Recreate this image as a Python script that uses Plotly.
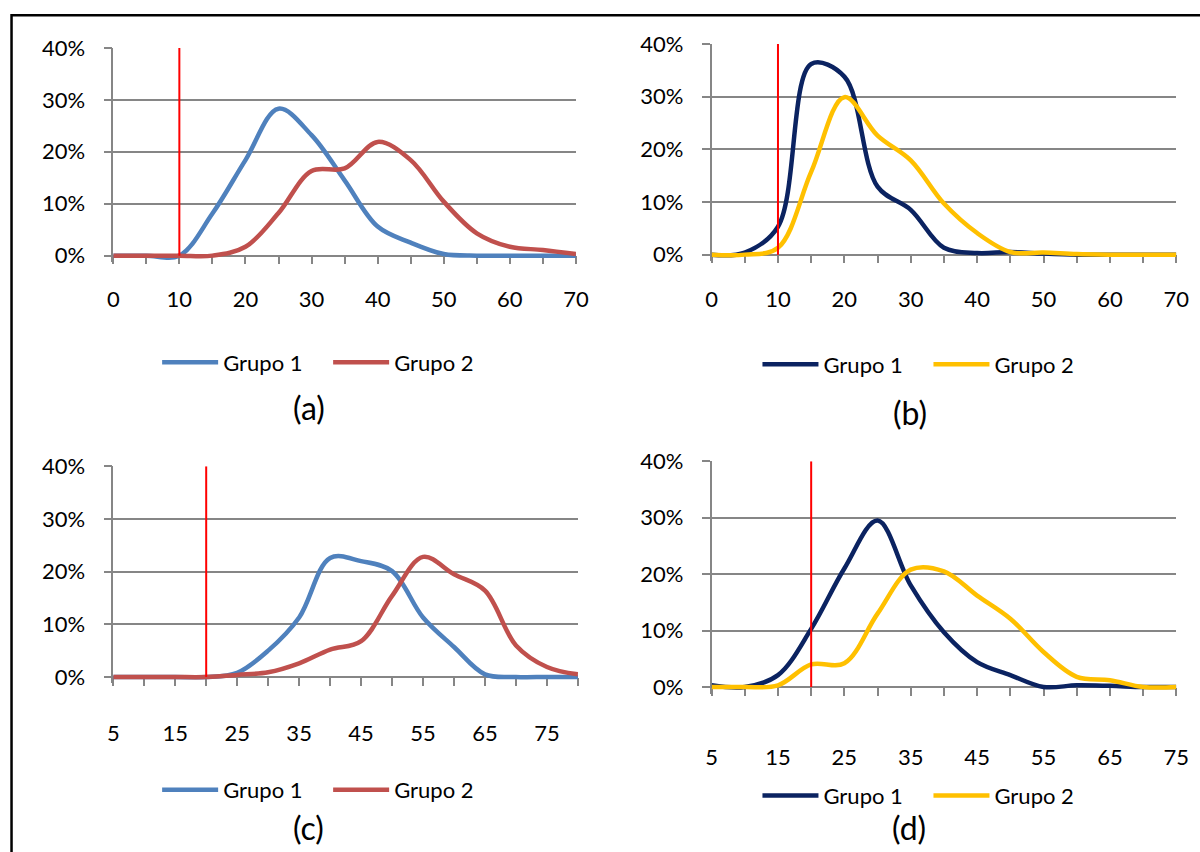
import plotly.graph_objects as go

W, H = 1200, 852
# measured mapping between figure pixels and the photographed picture
SX, BX = 0.9869, 3.45
SY, BY = 0.978, 14.0

# ---------------- data ----------------
x_a = [0, 5, 10, 15, 20, 25, 30, 35, 40, 45, 50, 55, 60, 65, 70]
a_grupo1 = [0, 0, 0, 0.081, 0.184, 0.283, 0.232, 0.145, 0.056, 0.025, 0.003, 0, 0, 0, 0]
a_grupo2 = [0, 0, 0, 0, 0.017, 0.082, 0.163, 0.168, 0.219, 0.184, 0.104, 0.043, 0.017, 0.011, 0.003]

x_b = [0, 5, 10, 15, 20, 25, 30, 35, 40, 45, 50, 55, 60, 65, 70]
b_grupo1 = [0, 0.004, 0.053, 0.362, 0.338, 0.129, 0.085, 0.013, 0.003, 0.005, 0.002, 0, 0, 0, 0]
b_grupo2 = [0, 0, 0.013, 0.157, 0.299, 0.226, 0.179, 0.097, 0.041, 0.005, 0.004, 0.001, 0, 0, 0]

x_c = [5, 10, 15, 20, 25, 30, 35, 40, 45, 50, 55, 60, 65, 70, 75, 80]
c_grupo1 = [0, 0, 0, 0, 0.008, 0.05, 0.113, 0.226, 0.22, 0.201, 0.113, 0.057, 0.005, 0, 0, 0]
c_grupo2 = [0, 0, 0, 0, 0.004, 0.009, 0.026, 0.052, 0.068, 0.154, 0.228, 0.195, 0.164, 0.06, 0.019, 0.005]

x_d = [5, 10, 15, 20, 25, 30, 35, 40, 45, 50, 55, 60, 65, 70, 75]
d_grupo1 = [0.003, 0, 0.021, 0.103, 0.21, 0.295, 0.18, 0.097, 0.044, 0.021, 0, 0.003, 0.002, 0, 0]
d_grupo2 = [0, 0, 0.003, 0.04, 0.042, 0.13, 0.208, 0.205, 0.162, 0.121, 0.062, 0.018, 0.012, 0, 0]

thresholds = [10, 10, 20, 20]
panel_labels = ["(a)", "(b)", "(c)", "(d)"]
series_names = ["Grupo 1", "Grupo 2"]

# ---------------- style ----------------
FONT = "Lato"
GRAY = "#868686"
BLUE, RED = "#4F81BD", "#C0504D"
NAVY, GOLD = "#0B2361", "#FFC000"
YMIN = -0.012


def fx(s):
    return (s - BX) / SX


def fy(s):
    return (s - BY) / SY


def px_x(s):
    return fx(s) / W


def py_paper(s):
    return 1 - fy(s) / H


# picture-pixel layout of each panel
panels = [
    dict(x=x_a, s=[a_grupo1, a_grupo2], c=[BLUE, RED], px=(111, 575), py=(48, 256), xlab_off=16,
         leg=(155, 363), lab=(307, 408)),
    dict(x=x_b, s=[b_grupo1, b_grupo2], c=[NAVY, GOLD], px=(711, 1177), py=(44, 255), xlab_off=17,
         leg=(757, 365), lab=(910, 413)),
    dict(x=x_c, s=[c_grupo1, c_grupo2], c=[BLUE, RED], px=(111, 577), py=(467, 678), xlab_off=29,
         leg=(155, 791), lab=(307, 829)),
    dict(x=x_d, s=[d_grupo1, d_grupo2], c=[NAVY, GOLD], px=(711, 1177), py=(462, 688), xlab_off=43,
         leg=(757, 797), lab=(909, 829)),
]

fig = go.Figure()
layout_axes = {}
annotations = []
for i, p in enumerate(panels):
    n = i + 1
    xa = "x" if n == 1 else f"x{n}"
    ya = "y" if n == 1 else f"y{n}"
    legname = "legend" if n == 1 else f"legend{n}"
    y40, y0 = fy(p["py"][0]), fy(p["py"][1])
    ppu = (y0 - y40) / 0.4
    ybot = y0 + (0 - YMIN) * ppu
    x0p, x1p = p["px"]
    for k in range(2):
        fig.add_trace(go.Scatter(
            x=p["x"], y=p["s"][k], name=series_names[k], mode="lines",
            line=dict(color=p["c"][k], width=4.5, shape="spline", smoothing=1),
            xaxis=xa, yaxis=ya, legend=legname, showlegend=True,
        ))
    thr = thresholds[i]
    fig.add_trace(go.Scatter(
        x=[thr, thr], y=[0, 0.4], mode="lines", line=dict(color="#FF0000", width=2),
        xaxis=xa, yaxis=ya, showlegend=False, hoverinfo="skip",
    ))
    xs = p["x"]
    ticktext = [str(v) if j % 2 == 0 else "" for j, v in enumerate(xs)]
    layout_axes[("xaxis" if n == 1 else f"xaxis{n}")] = dict(
        domain=[px_x(x0p), px_x(x1p)], range=[xs[0], xs[-1]],
        anchor="free", position=1 - y0 / H,
        tickmode="array", tickvals=xs, ticktext=ticktext,
        ticks="outside", ticklen=8, tickwidth=1.5, tickcolor=GRAY,
        showline=True, linecolor=GRAY, linewidth=1.5, showgrid=False, zeroline=False,
        tickfont=dict(family=FONT, size=22, color="black"), ticklabelstandoff=p["xlab_off"],
        layer="below traces",
    )
    layout_axes[("yaxis" if n == 1 else f"yaxis{n}")] = dict(
        domain=[1 - ybot / H, 1 - y40 / H], range=[YMIN, 0.4],
        anchor=xa, tickmode="array", tickvals=[0, 0.1, 0.2, 0.3, 0.4],
        ticktext=["0%", "10%", "20%", "30%", "40%"],
        ticks="outside", ticklen=8, tickwidth=1.5, tickcolor=GRAY,
        showline=True, linecolor=GRAY, linewidth=1.5,
        showgrid=True, gridcolor=GRAY, gridwidth=1.5, zeroline=False,
        tickfont=dict(family=FONT, size=22, color="black"), ticklabelstandoff=14,
        layer="below traces",
    )
    lx, ly = p["leg"]
    layout_axes[legname] = dict(
        x=px_x(lx), y=py_paper(ly), xanchor="left", yanchor="middle", orientation="h",
        font=dict(family=FONT, size=22, color="black"), bgcolor="rgba(0,0,0,0)",
        itemwidth=56, tracegroupgap=0, entrywidth=100, entrywidthmode="pixels",
    )
    ax_, ay_ = p["lab"]
    annotations.append(dict(
        text=panel_labels[i], x=px_x(ax_), y=py_paper(ay_), xref="paper", yref="paper",
        xanchor="center", yanchor="middle", showarrow=False,
        font=dict(family=FONT, size=32, color="black"),
    ))

fig.update_layout(
    width=W, height=H, margin=dict(l=0, r=0, t=0, b=0),
    paper_bgcolor="white", plot_bgcolor="white",
    annotations=annotations,
    shapes=[dict(type="rect", xref="paper", yref="paper", x0=px_x(9), x1=1.1,
                 y0=-0.1, y1=1 - 1.3 / H, line=dict(color="black", width=2.5))],
    **layout_axes,
)

fig.write_html("out.html")
